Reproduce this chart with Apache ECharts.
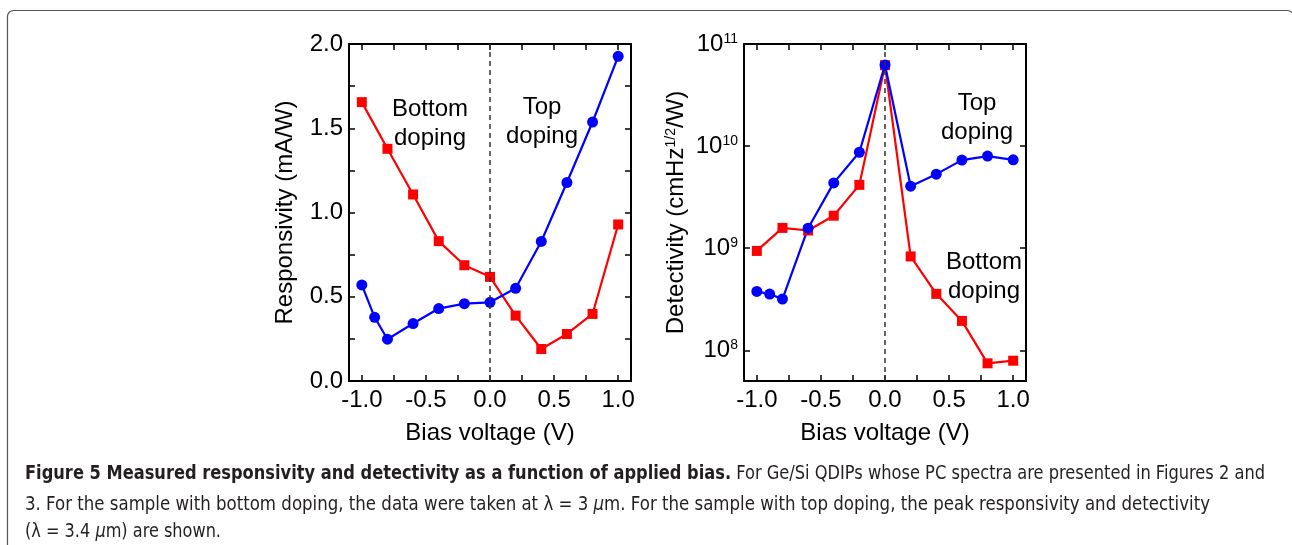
<!DOCTYPE html>
<html><head><meta charset="utf-8">
<script src="https://cdn.jsdelivr.net/npm/echarts@6/dist/echarts.min.js"></script>
<style>
html,body{margin:0;padding:0;background:#fff;}
#chart{position:absolute;left:0;top:0;width:1292px;height:545px;}
.cap{position:absolute;left:25px;white-space:nowrap;font-family:"Liberation Sans Narrow","DejaVu Sans Condensed","Liberation Sans",sans-serif;font-size:20px;line-height:20px;color:#231f20;transform-origin:0 0;}
.cap b{font-weight:bold;}
</style></head><body>
<div id="chart"></div>
<div class="cap" id="c1" data-w="1240" style="top:462px"><b>Figure 5 Measured responsivity and detectivity as a function of applied bias.</b> For Ge/Si QDIPs whose PC spectra are presented in Figures 2 and</div>
<div class="cap" id="c2" data-w="1185" style="top:493px">3. For the sample with bottom doping, the data were taken at λ = 3 <i>μ</i>m. For the sample with top doping, the peak responsivity and detectivity</div>
<div class="cap" id="c3" data-w="196" style="top:520px">(λ = 3.4 <i>μ</i>m) are shown.</div>
<script>
// ---- data ----
const biasBottom = [-1.0, -0.8, -0.6, -0.4, -0.2, 0.0, 0.2, 0.4, 0.6, 0.8, 1.0];
const biasTop = [-1.0, -0.9, -0.8, -0.6, -0.4, -0.2, 0.0, 0.2, 0.4, 0.6, 0.8, 1.0];
const respBottom = [1.655, 1.378, 1.107, 0.830, 0.687, 0.618, 0.388, 0.190, 0.279, 0.398, 0.929];
const respTop = [0.570, 0.378, 0.248, 0.341, 0.430, 0.459, 0.467, 0.550, 0.828, 1.178, 1.537, 1.927];
const detBottom = [9.4e8, 1.58e9, 1.49e9, 2.08e9, 4.17e9, 6.2e10, 8.3e8, 3.57e8, 1.94e8, 7.45e7, 7.9e7];
const detTop = [3.77e8, 3.55e8, 3.17e8, 1.57e9, 4.36e9, 8.7e9, 6.24e10, 4.05e9, 5.31e9, 7.29e9, 7.98e9, 7.34e9];
const xTickValues = [-1, -0.75, -0.5, -0.25, 0, 0.25, 0.5, 0.75, 1];
const xLabelValues = [-1, -0.5, 0, 0.5, 1];
const respTickValues = [0, 0.25, 0.5, 0.75, 1, 1.25, 1.5, 1.75, 2];
const respLabelValues = [0, 0.5, 1, 1.5, 2];
const detTickValues = [1e8, 1e9, 1e10, 1e11];

const FONT = '"Liberation Sans", Arial, sans-serif';
const FS = 24;
const BLACK = '#000';

function pairs(xs, ys) { return xs.map((x, i) => [x, ys[i]]); }

function xAxes(g) {
  const base = {
    gridIndex: g, type: 'value', min: -1.1, max: 1.1,
    axisLine: { show: true, onZero: false, lineStyle: { color: BLACK, width: 2 } },
    axisTick: { show: true, inside: true, length: 6, customValues: xTickValues, lineStyle: { color: BLACK, width: 1.5 } },
    splitLine: { show: false }
  };
  return [
    Object.assign({}, base, {
      position: 'bottom',
      axisLabel: { customValues: xLabelValues, formatter: v => v.toFixed(1), fontSize: FS, color: BLACK, fontFamily: FONT, margin: 7 },
      name: 'Bias voltage (V)', nameLocation: 'middle', nameGap: 40,
      nameTextStyle: { fontSize: FS, color: BLACK, fontFamily: FONT }
    }),
    Object.assign({}, base, { position: 'top', axisLabel: { show: false } })
  ];
}

const axLine = { show: true, onZero: false, lineStyle: { color: BLACK, width: 2 } };
const supRich = { fontSize: 14, color: BLACK, fontFamily: FONT, verticalAlign: 'top', lineHeight: 14 };

const option = {
  backgroundColor: '#fff',
  animation: false,
  grid: [
    { left: 349, top: 44, width: 282, height: 337 },
    { left: 744, top: 44, width: 282, height: 337 }
  ],
  xAxis: [].concat(xAxes(0), xAxes(1)),
  yAxis: [
    {
      gridIndex: 0, type: 'value', min: 0, max: 2, position: 'left',
      axisLine: axLine,
      axisTick: { show: true, inside: true, length: 6, customValues: respTickValues, lineStyle: { color: BLACK, width: 1.5 } },
      axisLabel: { customValues: respLabelValues, formatter: v => v.toFixed(1), fontSize: FS, color: BLACK, fontFamily: FONT, margin: 6 },
      splitLine: { show: false },
      name: 'Responsivity (mA/W)', nameLocation: 'middle', nameGap: 52,
      nameTextStyle: { fontSize: FS, color: BLACK, fontFamily: FONT }
    },
    {
      gridIndex: 0, type: 'value', min: 0, max: 2, position: 'right',
      axisLine: axLine,
      axisTick: { show: true, inside: true, length: 6, customValues: respTickValues, lineStyle: { color: BLACK, width: 1.5 } },
      axisLabel: { show: false }, splitLine: { show: false }
    },
    {
      gridIndex: 1, type: 'log', logBase: 10, min: 5e7, max: 1e11, position: 'left',
      axisLine: axLine,
      axisTick: { show: true, inside: true, length: 6, customValues: detTickValues, lineStyle: { color: BLACK, width: 1.5 } },
      axisLabel: {
        customValues: detTickValues, margin: 6,
        formatter: v => '{b|10}{s|' + Math.round(Math.log10(v)) + '}',
        rich: {
          b: { fontSize: FS, color: BLACK, fontFamily: FONT },
          s: supRich
        }
      },
      splitLine: { show: false }, minorTick: { show: false },
      name: '{a|Detectivity (cmHz}{s|1/2}{a|/W)}', nameLocation: 'middle', nameGap: 56,
      nameTextStyle: {
        rich: {
          a: { fontSize: FS, color: BLACK, fontFamily: FONT },
          s: supRich
        }
      }
    },
    {
      gridIndex: 1, type: 'log', logBase: 10, min: 5e7, max: 1e11, position: 'right',
      axisLine: axLine,
      axisTick: { show: true, inside: true, length: 6, customValues: detTickValues, lineStyle: { color: BLACK, width: 1.5 } },
      axisLabel: { show: false }, splitLine: { show: false }
    }
  ],
  series: [
    {
      type: 'line', name: 'Bottom doping', xAxisIndex: 0, yAxisIndex: 0,
      data: pairs(biasBottom, respBottom), symbol: 'rect', symbolSize: 10,
      lineStyle: { color: '#ff0000', width: 2.2 }, itemStyle: { color: '#ff0000' },
      markLine: {
        silent: true, symbol: 'none', label: { show: false },
        lineStyle: { type: [5, 4], color: '#333', width: 1.5 },
        data: [{ xAxis: 0 }]
      }
    },
    {
      type: 'line', name: 'Top doping', xAxisIndex: 0, yAxisIndex: 0,
      data: pairs(biasTop, respTop), symbol: 'circle', symbolSize: 11,
      lineStyle: { color: '#0000ff', width: 2.2 }, itemStyle: { color: '#0000ff' }
    },
    {
      type: 'line', name: 'Bottom doping D', xAxisIndex: 2, yAxisIndex: 2,
      data: pairs(biasBottom, detBottom), symbol: 'rect', symbolSize: 10,
      lineStyle: { color: '#ff0000', width: 2.2 }, itemStyle: { color: '#ff0000' },
      markLine: {
        silent: true, symbol: 'none', label: { show: false },
        lineStyle: { type: [5, 4], color: '#333', width: 1.5 },
        data: [{ xAxis: 0 }]
      }
    },
    {
      type: 'line', name: 'Top doping D', xAxisIndex: 2, yAxisIndex: 2,
      data: pairs(biasTop, detTop), symbol: 'circle', symbolSize: 11,
      lineStyle: { color: '#0000ff', width: 2.2 }, itemStyle: { color: '#0000ff' }
    }
  ],
  graphic: [
    { type: 'rect', silent: true, z: 100, shape: { x: 7.5, y: 10.5, width: 1286, height: 600, r: 6 },
      style: { fill: 'none', stroke: '#555', lineWidth: 1.2 } },
    { type: 'text', silent: true, z: 100, style: { text: 'Bottom\ndoping', x: 430, y: 95, align: 'center', verticalAlign: 'top', font: FS + 'px ' + FONT, lineHeight: 29, fill: BLACK } },
    { type: 'text', silent: true, z: 100, style: { text: 'Top\ndoping', x: 542, y: 93, align: 'center', verticalAlign: 'top', font: FS + 'px ' + FONT, lineHeight: 29, fill: BLACK } },
    { type: 'text', silent: true, z: 100, style: { text: 'Top\ndoping', x: 977, y: 89, align: 'center', verticalAlign: 'top', font: FS + 'px ' + FONT, lineHeight: 29, fill: BLACK } },
    { type: 'text', silent: true, z: 100, style: { text: 'Bottom\ndoping', x: 984, y: 248, align: 'center', verticalAlign: 'top', font: FS + 'px ' + FONT, lineHeight: 29, fill: BLACK } }
  ]
};

const chart = echarts.init(document.getElementById('chart'), null, { renderer: 'canvas' });
chart.setOption(option);

// fit caption lines to the reference widths
document.querySelectorAll('.cap').forEach(el => {
  const w = el.getBoundingClientRect().width;
  const target = +el.dataset.w;
  if (w > 0) el.style.transform = 'scaleX(' + (target / w) + ')';
});
</script>
</body></html>
